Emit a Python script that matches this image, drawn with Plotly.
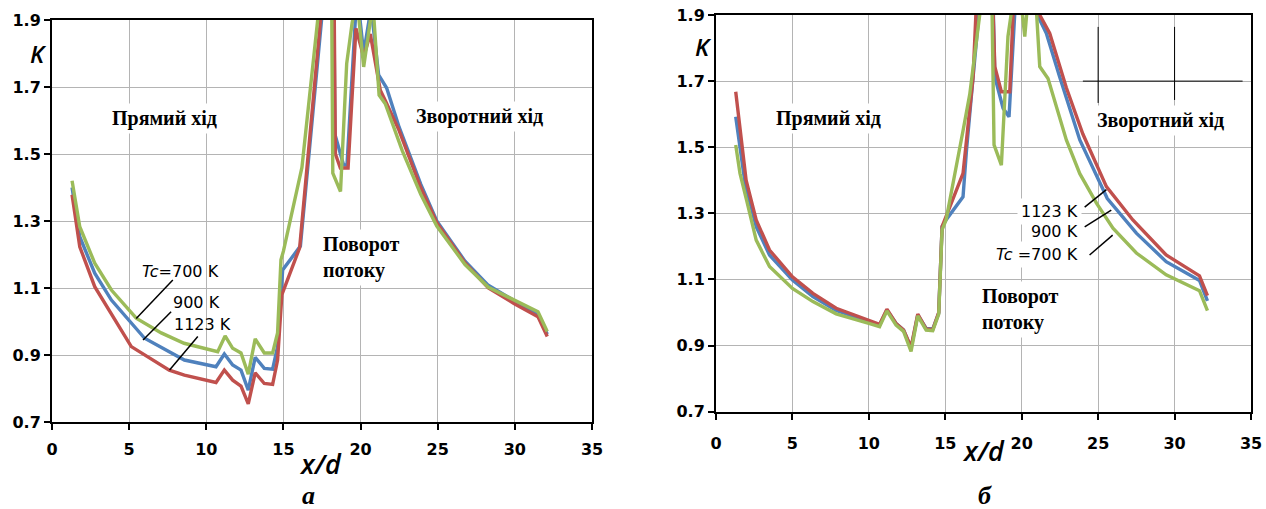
import plotly.graph_objects as go

# ---------------- data: panel "а" ----------------
a_x_700 = [1.3, 1.8, 2.77, 3.85, 5.46, 7.08, 8.56, 10.74, 11.22, 11.71, 12.25, 12.72, 13.17, 13.76, 14.3, 14.62, 14.84, 15.0, 16.2, 17.3, 17.8, 18.1, 18.2, 18.7, 19.1, 19.45, 19.75, 20.2, 20.6, 20.8, 21.2, 21.6, 22.7, 23.9, 24.94, 26.77, 28.28, 29.94, 31.5, 32.1]
a_k_700 = [1.42, 1.283, 1.174, 1.094, 1.01, 0.966, 0.935, 0.91, 0.957, 0.92, 0.906, 0.843, 0.948, 0.906, 0.906, 0.966, 1.184, 1.21, 1.46, 1.9, 2.15, 2.15, 1.443, 1.388, 1.77, 1.89, 1.97, 1.76, 1.9, 1.95, 1.676, 1.65, 1.51, 1.38, 1.285, 1.17, 1.102, 1.064, 1.029, 0.97]

a_x_900 = [1.3, 1.8, 2.77, 3.85, 6.0, 8.58, 10.63, 11.17, 11.71, 12.25, 12.72, 13.17, 13.76, 14.3, 14.62, 14.95, 16.1, 17.47, 17.9, 18.25, 18.33, 18.9, 19.12, 19.66, 19.85, 20.2, 20.55, 20.7, 21.17, 21.69, 22.5, 23.9, 24.94, 26.77, 28.28, 29.94, 31.5, 32.1]
a_k_900 = [1.40, 1.253, 1.144, 1.064, 0.95, 0.885, 0.865, 0.903, 0.87, 0.855, 0.795, 0.893, 0.86, 0.858, 0.925, 1.154, 1.225, 1.9, 2.15, 2.15, 1.56, 1.467, 1.467, 1.9, 1.95, 1.80, 1.9, 1.93, 1.736, 1.697, 1.58, 1.41, 1.30, 1.18, 1.108, 1.062, 1.02, 0.962]

a_x_1123 = [1.3, 1.8, 2.77, 3.85, 5.14, 7.6, 8.58, 10.63, 11.17, 11.71, 12.25, 12.72, 13.17, 13.76, 14.3, 14.62, 14.9, 16.05, 17.4, 17.9, 18.25, 18.37, 18.69, 19.19, 19.7, 20.2, 20.63, 21.28, 21.6, 22.5, 23.9, 24.94, 26.77, 28.28, 29.94, 31.5, 32.1]
a_k_1123 = [1.378, 1.223, 1.104, 1.024, 0.925, 0.855, 0.84, 0.818, 0.855, 0.825, 0.807, 0.754, 0.847, 0.815, 0.812, 0.885, 1.08, 1.22, 1.9, 2.15, 2.15, 1.50, 1.458, 1.458, 1.875, 1.79, 1.858, 1.69, 1.66, 1.57, 1.40, 1.295, 1.175, 1.10, 1.054, 1.014, 0.955]

# ---------------- data: panel "б" ----------------
b_x_700 = [1.29, 1.57, 2.0, 2.63, 3.5, 5.0, 6.34, 7.86, 10.0, 10.7, 11.18, 11.78, 12.27, 12.76, 13.2, 13.75, 14.18, 14.57, 14.79, 15.05, 16.16, 16.6, 17.25, 17.7, 18.0, 18.19, 18.67, 19.1, 19.3, 19.7, 20.2, 20.6, 20.85, 21.18, 21.72, 22.92, 23.8, 24.9, 25.97, 27.5, 29.45, 31.63, 32.15]
b_k_700 = [1.507, 1.421, 1.34, 1.219, 1.139, 1.073, 1.033, 0.996, 0.967, 0.957, 1.005, 0.962, 0.943, 0.882, 0.99, 0.947, 0.945, 0.995, 1.25, 1.28, 1.55, 1.66, 1.9, 2.1, 2.1, 1.507, 1.446, 1.835, 1.9, 2.05, 1.835, 2.05, 2.0, 1.744, 1.708, 1.522, 1.42, 1.33, 1.255, 1.18, 1.114, 1.066, 1.006]

b_x_900 = [1.29, 1.57, 1.9, 2.63, 3.5, 5.0, 6.34, 7.86, 10.0, 10.7, 11.18, 11.78, 12.27, 12.76, 13.2, 13.75, 14.18, 14.57, 14.79, 15.05, 16.16, 16.39, 16.82, 17.14, 17.6, 18.05, 18.24, 18.78, 19.17, 19.54, 20.0, 20.8, 21.03, 21.61, 22.48, 23.8, 25.6, 27.5, 29.45, 31.63, 32.15]
b_k_900 = [1.592, 1.502, 1.391, 1.26, 1.174, 1.098, 1.048, 1.006, 0.974, 0.962, 1.008, 0.967, 0.947, 0.892, 0.993, 0.952, 0.95, 0.998, 1.26, 1.28, 1.35, 1.492, 1.713, 1.9, 2.1, 2.1, 1.713, 1.618, 1.592, 1.9, 2.1, 2.1, 1.9, 1.845, 1.713, 1.522, 1.345, 1.24, 1.154, 1.097, 1.035]

b_x_1123 = [1.29, 1.57, 1.78, 1.97, 2.63, 3.5, 5.0, 6.34, 7.86, 10.0, 10.7, 11.18, 11.78, 12.27, 12.76, 13.2, 13.75, 14.18, 14.57, 14.79, 15.05, 16.16, 16.82, 17.0, 17.5, 18.0, 18.24, 18.67, 19.22, 19.43, 19.9, 20.9, 21.18, 21.83, 22.92, 24.0, 25.54, 27.27, 29.45, 31.63, 32.15]
b_k_1123 = [1.668, 1.562, 1.471, 1.40, 1.28, 1.189, 1.108, 1.058, 1.013, 0.977, 0.964, 1.01, 0.967, 0.947, 0.895, 0.995, 0.95, 0.948, 1.0, 1.26, 1.29, 1.421, 1.713, 1.9, 2.1, 2.1, 1.744, 1.668, 1.668, 1.9, 2.1, 2.1, 1.9, 1.845, 1.68, 1.54, 1.381, 1.28, 1.174, 1.111, 1.051]

x_ticks = [0, 5, 10, 15, 20, 25, 30, 35]
x_tick_labels = ["0", "5", "10", "15", "20", "25", "30", "35"]
k_ticks = [0.7, 0.9, 1.1, 1.3, 1.5, 1.7, 1.9]
k_tick_labels = ["0.7", "0.9", "1.1", "1.3", "1.5", "1.7", "1.9"]

C_700 = "#9BBB59"
C_900 = "#4F81BD"
C_1123 = "#C0504D"

W, H = 1266, 509

fig = go.Figure()

def add(xs, ys, color, xa, ya, name):
    fig.add_trace(go.Scatter(x=xs, y=ys, mode="lines", name=name,
                             line=dict(color=color, width=3.4),
                             xaxis=xa, yaxis=ya, showlegend=False,
                             hoverinfo="skip"))

add(a_x_900, a_k_900, C_900, "x", "y", "900 K")
add(a_x_1123, a_k_1123, C_1123, "x", "y", "1123 K")
add(a_x_700, a_k_700, C_700, "x", "y", "700 K")
add(b_x_900, b_k_900, C_900, "x2", "y2", "900 K")
add(b_x_1123, b_k_1123, C_1123, "x2", "y2", "1123 K")
add(b_x_700, b_k_700, C_700, "x2", "y2", "700 K")

tickfont = dict(family="DejaVu Sans", size=16, color="black", weight="bold")

def xax(domain, anchor, standoff):
    return dict(domain=domain, anchor=anchor, range=[0, 35], automargin=False,
                tickvals=x_ticks, ticktext=x_tick_labels,
                showgrid=True, gridcolor="#b4b4b4", gridwidth=1,
                showline=True, linecolor="black", linewidth=2, mirror=True,
                ticks="outside", ticklen=6, tickwidth=1.5, tickcolor="black",
                tickfont=tickfont, zeroline=False, ticklabelstandoff=standoff)

def yax(domain, anchor):
    return dict(domain=domain, anchor=anchor, range=[0.7, 1.9], automargin=False,
                tickvals=k_ticks, ticktext=k_tick_labels,
                showgrid=True, gridcolor="#b4b4b4", gridwidth=1,
                showline=True, linecolor="black", linewidth=2, mirror=True,
                ticks="outside", ticklen=6, tickwidth=1.5, tickcolor="black",
                tickfont=tickfont, zeroline=False)

fig.update_layout(
    width=W, height=H, autosize=False,
    margin=dict(l=0, r=0, t=0, b=0, autoexpand=False),
    paper_bgcolor="white", plot_bgcolor="white",
    xaxis=xax([52 / W, 592 / W], "y", 6),
    yaxis=yax([1 - 422 / H, 1 - 20 / H], "x"),
    xaxis2=xax([716 / W, 1251 / W], "y2", 10),
    yaxis2=yax([1 - 411.7 / H, 1 - 15 / H], "x2"),
)

serif = dict(family="Liberation Serif", size=20, color="black", weight="bold")
lab = dict(family="DejaVu Sans", size=16, color="black")

ann = []
def text(x, y, s, xref, yref, font, xanchor="center", align="center", bg=None, yanchor="middle"):
    d = dict(x=x, y=y, xref=xref, yref=yref, text=s, showarrow=False,
             font=font, xanchor=xanchor, yanchor=yanchor, align=align)
    if bg:
        d["bgcolor"] = bg
        d["borderpad"] = 3
    ann.append(d)

# panel a
text(7.27, 1.607, "Прямий хід", "x", "y", serif, bg="white")
text(27.74, 1.613, "Зворотний хід", "x", "y", serif, bg="white")
text(17.3, 1.19, "Поворот<br>потоку", "x", "y", serif, xanchor="left", align="left", bg="white")
text(8.31, 1.148, "<i>Tc</i>=700 K", "x", "y", lab)
text(9.37, 1.058, "900 K", "x", "y", lab)
text(9.76, 0.99, "1123 K", "x", "y", lab)
# panel b
text(7.39, 1.588, "Прямий хід", "x2", "y2", serif, bg="white")
text(29.08, 1.582, "Зворотний хід", "x2", "y2", serif, bg="white")
text(17.15, 1.008, "Поворот<br>потоку", "x2", "y2", serif, xanchor="left", align="left", bg="white")
text(23.95, 1.305, "1123 K", "x2", "y2", lab, xanchor="right", bg="white")
text(23.95, 1.244, "900 K", "x2", "y2", lab, xanchor="right", bg="white")
text(23.95, 1.177, "<i>Tc</i> =700 K", "x2", "y2", lab, xanchor="right", bg="white")

kfont = dict(family="Open Sans", size=24, color="black", weight=600)
text(38 / W, 1 - 53 / H, "<i>K</i>", "paper", "paper", kfont)
text(703 / W, 1 - 47 / H, "<i>K</i>", "paper", "paper", kfont)
xdfont = dict(family="Open Sans", size=27, color="black", weight=600)
text(320 / W, 1 - 463 / H, "<i>x/d</i>", "paper", "paper", xdfont)
text(983 / W, 1 - 450 / H, "<i>x/d</i>", "paper", "paper", xdfont)
pfont = dict(family="Liberation Serif", size=26, color="black", weight="bold")
text(308 / W, 1 - 495 / H, "<i>а</i>", "paper", "paper", pfont)
text(985 / W, 1 - 495 / H, "<i>б</i>", "paper", "paper", pfont)

fig.update_layout(annotations=ann)

shapes = []
def seg(x0, y0, x1, y1, xref, yref, w=1.5):
    shapes.append(dict(type="line", x0=x0, y0=y0, x1=x1, y1=y1,
                       xref=xref, yref=yref, line=dict(color="black", width=w)))

# leader lines, panel a
seg(7.83, 1.124, 5.46, 1.009, "x", "y")
seg(7.72, 1.029, 5.9, 0.945, "x", "y")
seg(9.45, 0.955, 7.62, 0.855, "x", "y")
# leader lines, panel b
seg(24.12, 1.319, 25.54, 1.372, "x2", "y2")
seg(24.12, 1.259, 25.86, 1.31, "x2", "y2")
seg(24.44, 1.174, 25.95, 1.234, "x2", "y2")
# stray black strokes in panel b
seg(25, 1.864, 25, 1.634, "x2", "y2", 1)
seg(30, 1.864, 30, 1.643, "x2", "y2", 1)
seg(24.0, 1.7, 34.45, 1.7, "x2", "y2", 1)

fig.update_layout(shapes=shapes)

fig.write_html("out.html", config={"displayModeBar": False},
               post_script="document.body.style.margin='0';document.body.style.overflow='hidden';")
